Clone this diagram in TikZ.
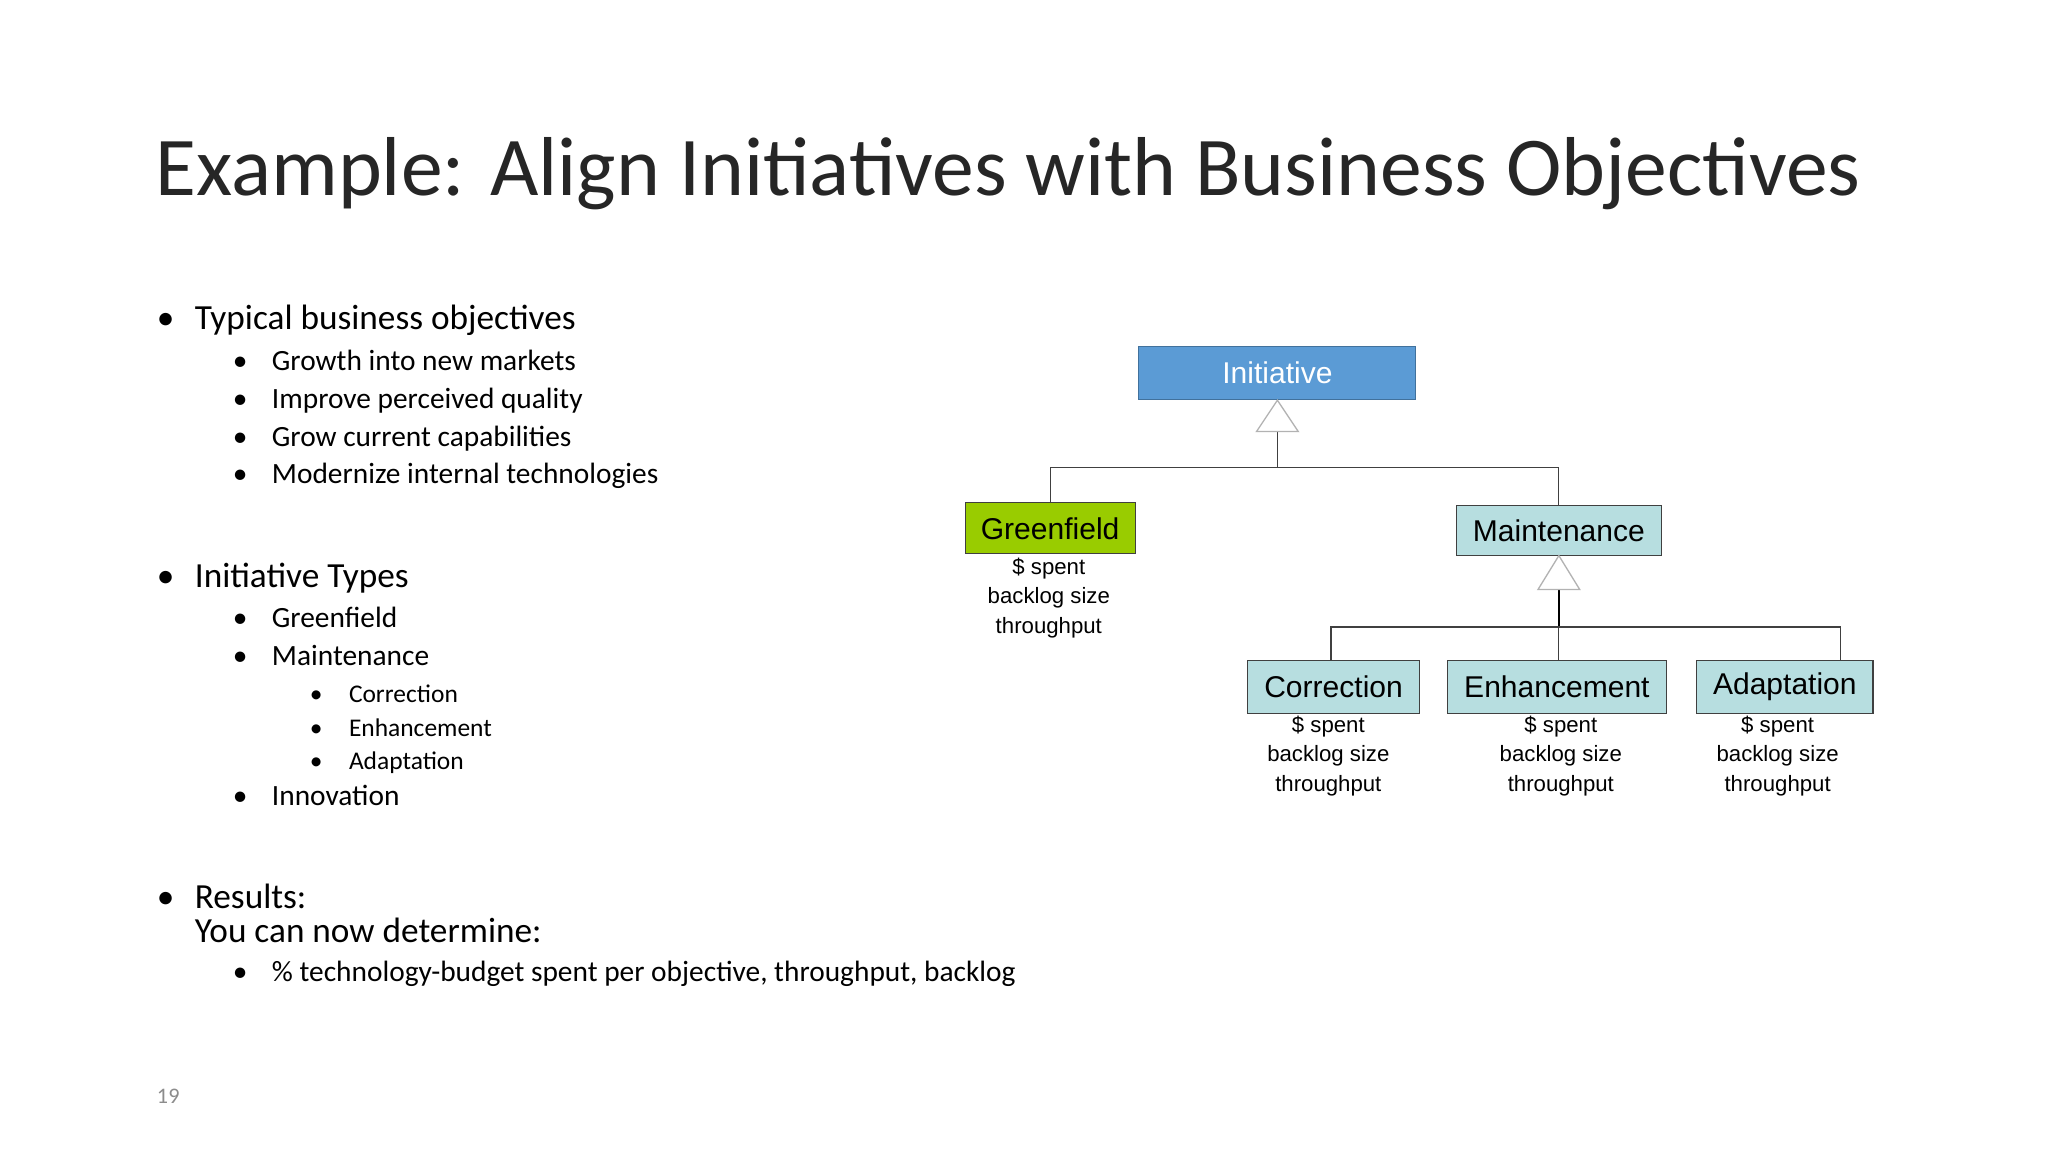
\documentclass[tikz,border=0pt]{standalone}
\usepackage{fontspec}
\setmainfont{Carlito}
\newfontfamily\arialf{Liberation Sans}
\begin{document}
\begin{tikzpicture}[x=1pt,y=-1pt,
  txt/.style={anchor=west,inner sep=0pt,text height=0.7em,text depth=0.2em},
  l1/.style={txt,font=\fontsize{27}{32}\selectfont},
  l2/.style={txt,font=\fontsize{22.5}{27}\selectfont},
  l3/.style={txt,font=\fontsize{19.5}{23}\selectfont},
  bx/.style={draw=black!75,line width=0.8pt,minimum height=39pt,inner sep=0pt,font=\arialf\fontsize{23}{27}\selectfont},
  met/.style={align=center,inner sep=0pt,font=\arialf\fontsize{17}{22.5}\selectfont},
  con/.style={draw=black!75,line width=0.9pt},
  tri/.style={draw=black!30,fill=white,line width=1pt}]
\fill[white] (0,0) rectangle (1568,882);
\node[anchor=base west,inner sep=0pt,text=black!85,font=\fontsize{64}{70}\selectfont] (title) at (119,150) {Example: Align Initiatives with Business Objectives};
% bullets
\foreach \n/\y/\t in {a/250/Typical business objectives,b/447/Initiative Types,c/693/Results:}{
  \node[l1] (b\n) at (120,\y) {•};
  \node[l1] (t\n) at (149,\y) {\t};}
\node[l1] (tc2) at (149,719) {You can now determine:};
\foreach \n/\y/\t in {a/281/Growth into new markets,b/310/Improve perceived quality,c/339/Grow current capabilities,d/368/Modernize internal technologies,e/478/Greenfield,f/507/Maintenance,g/614/Innovation,h/749/{\% technology-budget spent per objective, throughput, backlog}}{
  \node[l2] (s\n) at (178,\y) {•};
  \node[l2] (u\n) at (208,\y) {\t};}
\foreach \n/\y/\t in {a/535/Correction,b/561/Enhancement,c/587/Adaptation}{
  \node[l3] (r\n) at (237,\y) {•};
  \node[l3] (v\n) at (267,\y) {\t};}
\node[txt,text=black!45,font=\fontsize{17}{20}\selectfont] (pg) at (120,842) {19};
% diagram
\node[bx,fill={rgb,255:red,91;green,155;blue,213},draw={rgb,255:red,65;green,113;blue,156},text=white,minimum width=212pt,minimum height=41pt] (init) at (978,285.5) {Initiative};
\node[bx,fill={rgb,255:red,153;green,204;blue,0},minimum width=130pt] (green) at (804,404.5) {Greenfield};
\node[bx,fill={rgb,255:red,183;green,222;blue,224},minimum width=157pt,minimum height=38pt] (maint) at (1193.5,406) {Maintenance};
\node[bx,fill={rgb,255:red,183;green,222;blue,224},minimum width=132pt,minimum height=40pt] (corr) at (1021,526) {Correction};
\node[bx,fill={rgb,255:red,183;green,222;blue,224},minimum width=168pt,minimum height=40pt] (enh) at (1192,526) {Enhancement};
\node[bx,fill={rgb,255:red,183;green,222;blue,224},minimum width=135pt,minimum height=40pt] (adap) at (1366.5,526) {Adaptation};
\node[met,anchor=north] (mg) at (803,427) {\$ spent\\backlog size\\throughput};
\node[met,anchor=north] (mc) at (1017,548) {\$ spent\\backlog size\\throughput};
\node[met,anchor=north] (me) at (1195,548) {\$ spent\\backlog size\\throughput};
\node[met,anchor=north] (ma) at (1361,548) {\$ spent\\backlog size\\throughput};
% connectors
\coordinate (t1) at (978,330);
\coordinate (j1) at (978,358);
\draw[con] (t1) -- (j1);
\draw[con] (green.north) |- (j1) -| (maint.north);
\draw[tri] (init.south) -- ++(16,24) -- ++(-32,0) -- cycle;
\coordinate (t2) at (1193.5,451);
\coordinate (j2) at (1193.5,480);
\draw[con,line width=1.8pt,draw=black] (t2) -- (j2);
\draw[con] (corr.north -| 1019,0) |- (j2) -| (adap.north -| 1409,0);
\draw[con] (j2) -- (enh.north -| j2);
\draw[tri] (maint.south) -- ++(16,26) -- ++(-32,0) -- cycle;
\end{tikzpicture}
\end{document}
